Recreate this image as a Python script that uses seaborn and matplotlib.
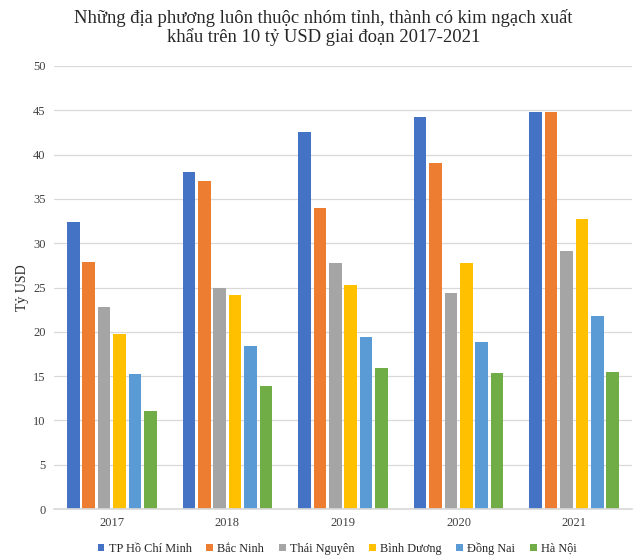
import matplotlib.pyplot as plt
import pandas as pd
import seaborn as sns

years = ["2017", "2018", "2019", "2020", "2021"]
cities = ["TP Hồ Chí Minh", "Bắc Ninh", "Thái Nguyên", "Bình Dương", "Đồng Nai", "Hà Nội"]
hcm = [32.4, 38.0, 42.6, 44.3, 44.8]
bac_ninh = [27.9, 37.0, 34.0, 39.1, 44.8]
thai_nguyen = [22.8, 25.0, 27.8, 24.4, 29.1]
binh_duong = [19.7, 24.1, 25.3, 27.8, 32.7]
dong_nai = [15.2, 18.4, 19.4, 18.8, 21.8]
ha_noi = [11.1, 13.9, 15.9, 15.3, 15.5]

colors = ["#4472C4", "#ED7D31", "#A5A5A5", "#FFC000", "#5B9BD5", "#70AD47"]

series = [hcm, bac_ninh, thai_nguyen, binh_duong, dong_nai, ha_noi]
rows = []
for city, vals in zip(cities, series):
    for y, v in zip(years, vals):
        rows.append({"year": y, "city": city, "value": v})
df = pd.DataFrame(rows)

sns.set_theme(style="white")
plt.rcParams["font.family"] = ["Liberation Serif", "DejaVu Serif"]

fig, ax = plt.subplots(figsize=(6.4, 5.59), dpi=100)
fig.subplots_adjust(left=54 / 640, right=632 / 640, top=1 - 66 / 559, bottom=1 - 509 / 559)

sns.barplot(
    data=df, x="year", y="value", hue="city", hue_order=cities,
    palette=colors, width=0.8, gap=0.18, saturation=1, ax=ax,
    edgecolor="none", legend=True,
)

ax.set_ylim(0, 50)
ax.set_yticks(range(0, 51, 5))
ax.yaxis.grid(True, color="#D9D9D9", linewidth=0.9)
ax.set_axisbelow(True)
for s in ["top", "right", "left"]:
    ax.spines[s].set_visible(False)
ax.spines["bottom"].set_color("#D9D9D9")
ax.tick_params(axis="both", length=0, labelsize=9, colors="#404040", pad=6)
ax.set_xlabel("")
ax.set_ylabel("Tỷ USD", fontsize=10, color="#262626", labelpad=3)

fig.suptitle(
    "Những địa phương luôn thuộc nhóm tỉnh, thành có kim ngạch xuất\nkhẩu trên 10 tỷ USD giai đoạn 2017-2021",
    fontsize=13.4, x=0.505, y=0.984, linespacing=1.1,
)

handles, labels = ax.get_legend_handles_labels()
ax.get_legend().remove()
fig.legend(
    handles, labels, loc="lower center", bbox_to_anchor=(0.527, -0.012), ncol=6,
    frameon=False, fontsize=8.8, handlelength=0.55, handleheight=0.55,
    handletextpad=0.35, columnspacing=1.2, labelcolor="#262626",
)

fig.savefig("out.png", dpi=100)
